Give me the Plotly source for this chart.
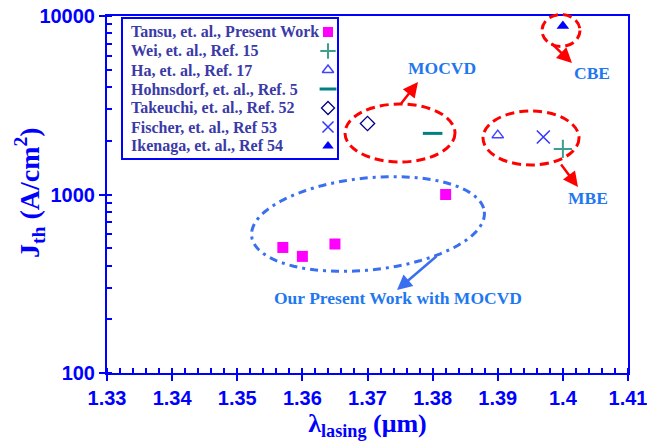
import numpy as np
import plotly.graph_objects as go

# ---------------- data ----------------
tansu_x = [1.357, 1.360, 1.365, 1.382]
tansu_y = [505, 450, 528, 1000]
wei_x, wei_y = [1.400], [1800]
ha_x, ha_y = [1.390], [2150]
hohnsdorf_x, hohnsdorf_y = [1.380], [2200]
takeuchi_x, takeuchi_y = [1.370], [2500]
fischer_x, fischer_y = [1.397], [2100]
ikenaga_x, ikenaga_y = [1.400], [8800]

legend_names = [
    "Tansu, et. al., Present Work",
    "Wei, et. al., Ref. 15",
    "Ha, et. al., Ref. 17",
    "Hohnsdorf, et. al., Ref. 5",
    "Takeuchi, et. al., Ref. 52",
    "Fischer, et. al., Ref 53",
    "Ikenaga, et. al., Ref 54",
]
x_ticks = [1.33, 1.34, 1.35, 1.36, 1.37, 1.38, 1.39, 1.40, 1.41]
x_tick_labels = ["1.33", "1.34", "1.35", "1.36", "1.37", "1.38", "1.39", "1.4", "1.41"]
y_ticks = [100, 1000, 10000]
y_tick_labels = ["100", "1000", "10000"]

# ---------------- styles ----------------
BLUE = "#0000FF"
NOTE = "#1f78f0"
LEGTXT = "#3a3aa8"
SERIF = "Liberation Serif, Times New Roman, serif"
SANS = "Liberation Sans, Arial, sans-serif"

W, H = 647, 443
L, R, T, B = 107, 19, 16, 70
PW, PH = W - L - R, H - T - B

def px(xp):
    return (xp - L) / PW

def py(yp):
    return (H - B - yp) / PH

series = [
    dict(symbol="square", size=11, lsize=10, color="#FF00FF", lw=0),
    dict(symbol="cross-thin", size=13, lsize=11, color="#3f9f8f", lw=2),
    dict(symbol="triangle-up-open", size=10, lsize=10, color="#4444ff", lw=1.5),
    dict(symbol="line-ew", size=14, lsize=12, color="#008080", lw=3),
    dict(symbol="diamond-open", size=11, lsize=10, color="#000080", lw=1.3),
    dict(symbol="x-thin", size=13, lsize=11, color="#3333ff", lw=1.5),
    dict(symbol="triangle-up", size=11, lsize=10, color="#0000ff", lw=0),
]
xs = [tansu_x, wei_x, ha_x, hohnsdorf_x, takeuchi_x, fischer_x, ikenaga_x]
ys = [tansu_y, wei_y, ha_y, hohnsdorf_y, takeuchi_y, fischer_y, ikenaga_y]

fig = go.Figure()
for name, s, xv, yv in zip(legend_names, series, xs, ys):
    fig.add_trace(go.Scatter(
        x=xv, y=yv, mode="markers", name=name, showlegend=False,
        marker=dict(symbol=s["symbol"], size=s["size"], color=s["color"],
                    line=dict(width=s["lw"], color=s["color"])),
    ))

# ---------- custom legend (symbols on the right like the original) ----------
leg_top = 32
leg_step = 19
for i, (name, s) in enumerate(zip(legend_names, series)):
    yy = leg_top + i * leg_step
    fig.add_trace(go.Scatter(
        x=[px(328)], y=[py(yy)], xaxis="x2", yaxis="y2", mode="markers",
        showlegend=False, hoverinfo="skip",
        marker=dict(symbol=s["symbol"], size=s["lsize"], color=s["color"],
                    line=dict(width=s["lw"], color=s["color"])),
    ))
    fig.add_annotation(x=px(129), y=py(yy), xref="paper", yref="paper",
                       text=name, showarrow=False, xanchor="left", yanchor="middle",
                       font=dict(family=SERIF, size=16, color=LEGTXT, weight="bold"))
fig.add_shape(type="rect", xref="paper", yref="paper",
              x0=px(122), x1=px(338), y0=py(18), y1=py(159),
              line=dict(color=BLUE, width=2), fillcolor="rgba(0,0,0,0)")

# ---------- ellipses ----------
def ell(cx, cy, rx, ry):
    return dict(type="circle", xref="paper", yref="paper",
                x0=px(cx - rx), x1=px(cx + rx), y0=py(cy + ry), y1=py(cy - ry),
                line=dict(color="#FF0000", width=3, dash="9px,5px"))

fig.add_shape(**ell(400, 133, 55, 29))
fig.add_shape(**ell(531, 138, 48, 27))
fig.add_shape(**ell(561, 30.5, 19, 16))

# tilted blue dash-dot ellipse
t = np.linspace(0, 2 * np.pi, 121)
cx, cy, a, b, th = 368, 224, 117, 46, np.deg2rad(-6)
ex = cx + a * np.cos(t) * np.cos(th) - b * np.sin(t) * np.sin(th)
ey = cy + a * np.cos(t) * np.sin(th) + b * np.sin(t) * np.cos(th)
path = "M " + " L ".join(f"{px(u):.5f},{py(v):.5f}" for u, v in zip(ex, ey)) + " Z"
fig.add_shape(type="path", xref="paper", yref="paper", path=path,
              line=dict(color="#3a6ff0", width=3, dash="8px,5px,3px,5px"))

# ---------- notes and arrows ----------
def note(text, xp, yp):
    fig.add_annotation(x=px(xp), y=py(yp), xref="paper", yref="paper", text=text,
                       showarrow=False, xanchor="center", yanchor="middle",
                       font=dict(family=SERIF, size=17.5, color=NOTE, weight="bold"))

def arrow(hx, hy, tx, ty, color):
    fig.add_annotation(x=px(hx), y=py(hy), xref="paper", yref="paper", text="",
                       showarrow=True, ax=tx - hx, ay=ty - hy, arrowhead=2,
                       arrowsize=1.2, arrowwidth=2.5, arrowcolor=color)

note("MOCVD", 442, 68)
note("CBE", 592, 73)
note("MBE", 588, 198)
note("Our Present Work with MOCVD", 398, 298)
arrow(418, 82, 400, 105, "#FF0000")
arrow(572, 63, 550, 42, "#FF0000")
arrow(578, 187, 560, 163, "#FF0000")
arrow(397, 290, 438, 255, "#3a6ff0")

# y-axis title as rotated annotation (placed like the original)
fig.add_annotation(x=px(29), y=py(193), xref="paper", yref="paper",
                   text="J<sub>th</sub> (A/cm<sup>2</sup>)", textangle=-90,
                   showarrow=False, xanchor="center", yanchor="middle",
                   font=dict(family=SERIF, size=28, color=BLUE, weight="bold"))

fig.update_layout(
    width=W, height=H, margin=dict(l=L, r=R, t=T, b=B, autoexpand=False),
    plot_bgcolor="white", paper_bgcolor="white", showlegend=False,
    xaxis=dict(
        range=[1.33, 1.41], tickvals=x_ticks, ticktext=x_tick_labels,
        ticklabeloverflow="allow", automargin=False,
        ticks="outside", ticklen=6, tickwidth=2, tickcolor=BLUE,
        showline=True, linecolor=BLUE, linewidth=2, mirror=True,
        showgrid=False, zeroline=False,
        minor=dict(ticks="inside", ticklen=5, tickwidth=1.5, tickcolor=BLUE, dtick=0.002),
        tickfont=dict(family=SANS, size=20, color=BLUE, weight="bold"),
        title=dict(text="λ<sub>lasing</sub> (μm)", standoff=4,
                   font=dict(family=SERIF, size=26, color=BLUE, weight="bold")),
    ),
    yaxis=dict(
        type="log", range=[2, 4], tickvals=y_ticks, ticktext=y_tick_labels,
        ticklabeloverflow="allow", automargin=False,
        ticks="outside", ticklen=6, tickwidth=2, tickcolor=BLUE,
        showline=True, linecolor=BLUE, linewidth=2, mirror=True,
        showgrid=False, zeroline=False,
        minor=dict(ticks="inside", ticklen=5, tickwidth=1.5, tickcolor=BLUE, dtick="D1"),
        tickfont=dict(family=SANS, size=20, color=BLUE, weight="bold"),
    ),
    xaxis2=dict(overlaying="x", range=[0, 1], visible=False),
    yaxis2=dict(overlaying="y", range=[0, 1], visible=False),
)

fig.write_html("out.html")
